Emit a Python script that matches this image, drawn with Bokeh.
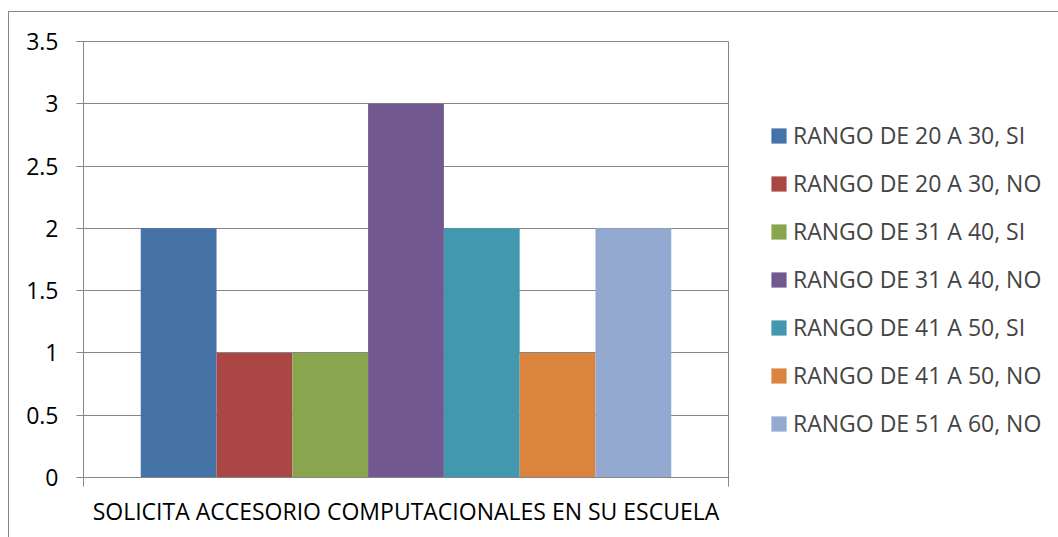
from bokeh.plotting import figure
from bokeh.layouts import row
from bokeh.models import Range1d, FixedTicker, NumeralTickFormatter, Legend, LegendItem, ColumnDataSource
from bokeh.embed import file_html
from bokeh.resources import INLINE

category = "SOLICITA ACCESORIO COMPUTACIONALES EN SU ESCUELA"
series = ["RANGO DE 20 A 30, SI", "RANGO DE 20 A 30, NO", "RANGO DE 31 A 40, SI",
          "RANGO DE 31 A 40, NO", "RANGO DE 41 A 50, SI", "RANGO DE 41 A 50, NO",
          "RANGO DE 51 A 60, NO"]
values = [2, 1, 1, 3, 2, 1, 2]
colors = ["#4572A7", "#AA4643", "#89A54E", "#71588F", "#4198AF", "#DB843D", "#93A9CF"]
y_ticks = [0, 0.5, 1, 1.5, 2, 2.5, 3, 3.5]

FONT = "Open Sans"
GRAY = "#868686"

p = figure(width=720, height=525, output_backend="svg", toolbar_location=None,
           x_range=Range1d(0, 1), y_range=Range1d(0, 3.5),
           min_border_left=74, min_border_right=1, min_border_top=29, min_border_bottom=60)
p.outline_line_color = GRAY
p.outline_line_width = 1

leg = figure(width=329, height=525, output_backend="svg", toolbar_location=None,
             x_range=Range1d(10, 11), y_range=Range1d(10, 11), min_border=0)
leg.axis.visible = False
leg.grid.visible = False
leg.outline_line_color = None

bw = 0.1175
n = len(series)
renderers = []
for i, (s, v, c) in enumerate(zip(series, values, colors)):
    src = ColumnDataSource(dict(x=[0.5 + (i - (n - 1) / 2) * bw], top=[v]))
    p.vbar(x="x", top="top", width=bw, bottom=0, source=src, fill_color=c, line_color=None)
    # same bars in the legend panel (outside its visible range) to provide legend swatches
    r = leg.vbar(x="x", top="top", width=bw, bottom=0, source=src, fill_color=c, line_color=None)
    renderers.append(r)

# y axis
p.yaxis.ticker = FixedTicker(ticks=y_ticks)
p.yaxis.formatter = NumeralTickFormatter(format="0.[0]")
p.yaxis.major_tick_out = 7
p.yaxis.major_tick_in = 0
p.yaxis.minor_tick_line_color = None
p.yaxis.axis_line_color = GRAY
p.yaxis.major_tick_line_color = GRAY
p.yaxis.major_label_text_font = FONT
p.yaxis.major_label_text_font_size = "23px"
p.yaxis.major_label_text_color = "black"
p.yaxis.major_label_standoff = 18

# x axis
p.xaxis.ticker = FixedTicker(ticks=[0.5], minor_ticks=[0, 1])
p.xaxis.major_label_overrides = {0.5: category}
p.xaxis.major_tick_line_color = None
p.xaxis.major_tick_out = 0
p.xaxis.major_tick_in = 0
p.xaxis.minor_tick_out = 9
p.xaxis.minor_tick_in = 0
p.xaxis.minor_tick_line_color = GRAY
p.xaxis.axis_line_color = GRAY
p.xaxis.major_label_text_font = FONT
p.xaxis.major_label_text_font_size = "23px"
p.xaxis.major_label_text_color = "black"
p.xaxis.major_label_standoff = 8

p.xgrid.visible = False
p.ygrid.ticker = FixedTicker(ticks=y_ticks)
p.ygrid.grid_line_color = GRAY

legend = Legend(items=[LegendItem(label=s, renderers=[r]) for s, r in zip(series, renderers)],
                location=(40, 38), orientation="vertical",
                glyph_width=19, glyph_height=19, label_standoff=5,
                label_text_font=FONT, label_text_font_size="23px", label_height=28,
                spacing=16, padding=0, margin=0, border_line_color=None,
                background_fill_alpha=0)
leg.add_layout(legend, "center")

layout = row(p, leg, spacing=0,
             styles={"border-left": "1px solid " + GRAY, "border-top": "1px solid " + GRAY,
                     "margin-top": "11px", "margin-left": "8px"})

open("out.html", "w").write(file_html(layout, INLINE))
